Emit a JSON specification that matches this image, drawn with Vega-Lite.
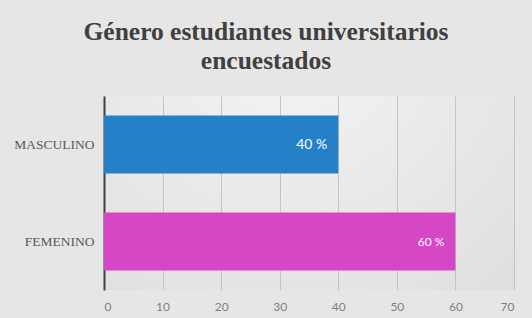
{
  "$schema": "https://vega.github.io/schema/vega-lite/v6.json",
  "width": 410,
  "height": 194,
  "autosize": "none",
  "padding": {"left": 104, "top": 96, "right": 18, "bottom": 28},
  "background": "#e6e6e6",
  "view": {
    "stroke": null,
    "fill": {
      "gradient": "radial",
      "x1": 0.45, "y1": 0.1, "r1": 0,
      "x2": 0.45, "y2": 0.1, "r2": 0.95,
      "stops": [
        {"offset": 0, "color": "#f5f5f5"},
        {"offset": 1, "color": "#dcdcdc"}
      ]
    }
  },
  "title": {
    "text": ["Género estudiantes universitarios", "encuestados"],
    "font": "Liberation Serif",
    "fontSize": 25.5,
    "fontWeight": "bold",
    "color": "#404040",
    "lineHeight": 29,
    "anchor": "middle",
    "dx": -43,
    "offset": 22
  },
  "data": {
    "values": [
      {"genero": "MASCULINO", "porcentaje": 40, "etiqueta": "40 %"},
      {"genero": "FEMENINO", "porcentaje": 60, "etiqueta": "60 %"}
    ]
  },
  "encoding": {
    "y": {
      "field": "genero",
      "type": "nominal",
      "sort": ["MASCULINO", "FEMENINO"],
      "scale": {"paddingInner": 0.4, "paddingOuter": 0.2},
      "axis": {
        "title": null,
        "ticks": false,
        "labelFont": "Liberation Serif",
        "labelFontSize": 13.5,
        "labelColor": "#595959",
        "labelPadding": 10,
        "domainColor": "#404040",
        "domainWidth": 2
      }
    },
    "x": {
      "field": "porcentaje",
      "type": "quantitative",
      "scale": {"domain": [0, 70], "nice": false},
      "axis": {
        "title": null,
        "values": [0, 10, 20, 30, 40, 50, 60, 70],
        "grid": true,
        "gridColor": "#c4c4c4",
        "gridWidth": 1,
        "domain": false,
        "ticks": false,
        "labelFont": "Lato",
        "labelFontSize": 12,
        "labelColor": "#7f7f7f",
        "labelPadding": 11
      }
    }
  },
  "layer": [
    {
      "mark": {"type": "bar"},
      "encoding": {
        "color": {
          "field": "genero",
          "type": "nominal",
          "scale": {"domain": ["MASCULINO", "FEMENINO"], "range": ["#2680c8", "#d647c6"]},
          "legend": null
        }
      }
    },
    {
      "mark": {"type": "text", "align": "right", "baseline": "middle", "dx": -11, "color": "#ffffff", "font": "Lato"},
      "encoding": {
        "text": {"field": "etiqueta"},
        "size": {"condition": {"test": "datum.genero === 'MASCULINO'", "value": 14}, "value": 12}
      }
    }
  ]
}
